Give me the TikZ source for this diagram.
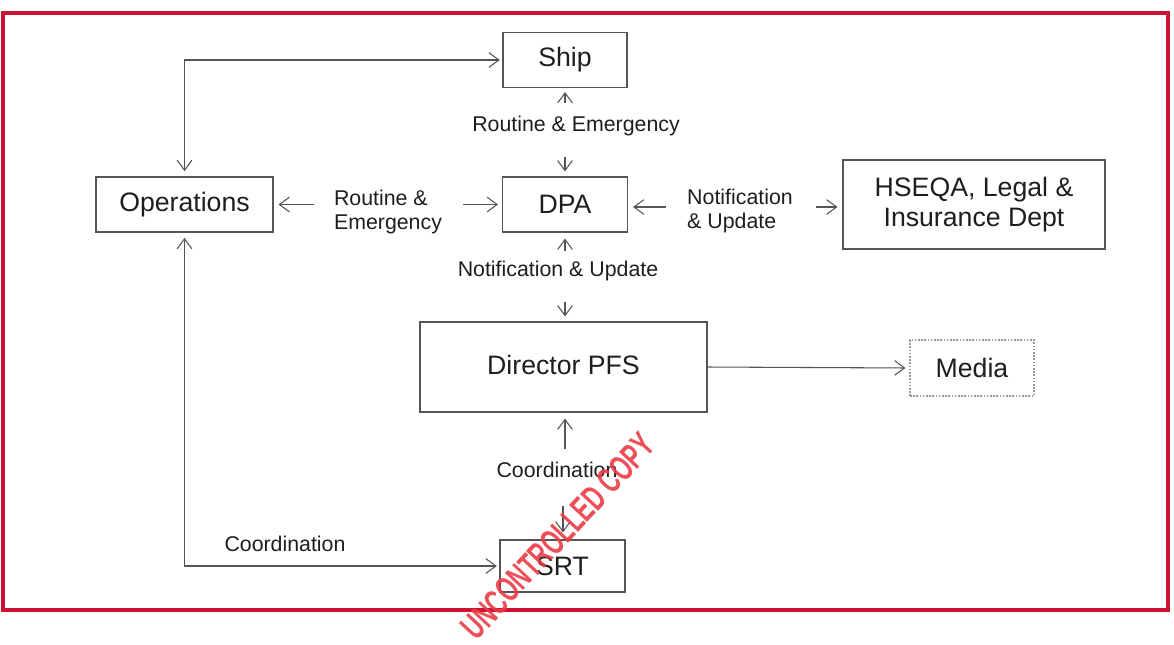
\documentclass[tikz,border=0pt]{standalone}
\usepackage{fontspec}
\setmainfont{Liberation Sans}
\usetikzlibrary{arrows.meta,calc}
\definecolor{frame}{RGB}{204,18,50}
\definecolor{ln}{RGB}{85,85,85}
\definecolor{tx}{RGB}{30,30,30}
\definecolor{wm}{RGB}{236,60,70}
\begin{document}
\begin{tikzpicture}[x=0.75pt,y=-0.75pt,
  box/.style={draw=ln,line width=0.8pt,inner sep=0pt,align=center,text=tx,
    font=\fontsize{20}{22.5}\selectfont},
  lbl/.style={inner sep=1pt,text=tx,font=\fontsize{16}{18}\selectfont},
  arr/.style={draw=ln,line width=0.8pt,-{Straight Barb[length=7.5pt,width=11pt]}},
  darr/.style={draw=ln,line width=0.8pt,{Straight Barb[length=7.5pt,width=11pt]}-{Straight Barb[length=7.5pt,width=11pt]}}
]
\useasboundingbox (0,0) rectangle (1174,644);
\fill[white] (0,0) rectangle (1174,644);
\draw[frame,line width=3pt] (3,13) rectangle (1168,610);

% boxes
\node[box,minimum width=93pt,minimum height=41.25pt] (ship) at (565,60) {Ship};
\node[box,minimum width=93.75pt,minimum height=41.25pt] (dpa) at (565,204.5) {DPA};
\node[box,minimum width=132.75pt,minimum height=41.25pt] (ops) at (184.5,204.5) {Operations};
\node[box,minimum width=196.5pt,minimum height=66.75pt] (hseqa) at (974,204.5) {HSEQA, Legal \&\\Insurance Dept};
\node[box,minimum width=215.25pt,minimum height=67.5pt] (dir) at (563.5,367) {\raisebox{4pt}{Director PFS}};
\node[box,draw=ln!60,dashed,dash pattern=on 1.2pt off 1.2pt,minimum width=93pt,minimum height=42pt] (media) at (972,368) {Media};
\node[box,minimum width=93.75pt,minimum height=39pt] (srt) at (562.5,566) {SRT};

% labels
\node[lbl] (l1) at (576,126) {Routine \& Emergency};
\node[lbl,align=left] (l2) at (388,212) {Routine \&\\Emergency};
\node[lbl,align=left] (l3) at (740,211) {Notification\\\& Update};
\node[lbl] (l4) at (558,271) {Notification \& Update};
\node[lbl] (l5) at (557,470) {Coordination};
\node[lbl] (l6) at (285,544) {Coordination};

% short arrows
\draw[arr] ($(ship.south)+(0,15)$) -- ($(ship.south)+(0,4)$);
\draw[arr] ($(dpa.north)+(0,-19)$) -- ($(dpa.north)+(0,-5)$);
\draw[arr] ($(ops.east)+(40,0)$) -- ($(ops.east)+(5,0)$);
\draw[arr] ($(dpa.west)+(-39,0)$) -- ($(dpa.west)+(-4,0)$);
\draw[arr] ($(dpa.east)+(38,2.5)$) -- ($(dpa.east)+(5,2.5)$);
\draw[arr] ($(hseqa.west)+(-26,2.5)$) -- ($(hseqa.west)+(-5,2.5)$);
\draw[arr] ($(dpa.south)+(0,18)$) -- ($(dpa.south)+(0,6)$);
\draw[arr] ($(dir.north)+(1.5,-19)$) -- ($(dir.north)+(1.5,-5)$);
\draw[arr] ($(dir.south)+(1.5,36)$) -- ($(dir.south)+(1.5,6)$);
\draw[arr] ($(srt.north)+(0.5,-33)$) -- ($(srt.north)+(0.5,-7)$);

% long connectors
\draw[arr,shorten >=3pt] (dir.east) -- (media.west);
\draw[darr,shorten <=4pt,shorten >=2pt] (ops.north) |- (ship.west);
\draw[darr,shorten <=4pt,shorten >=2pt] (ops.south) |- (srt.west);

% watermark
\node[rotate=47,text=wm,opacity=0.9,font=\bfseries\fontsize{27}{27}\selectfont,xscale=0.64] (wmk) at (558,536) {UNCONTROLLED COPY};
\end{tikzpicture}
\end{document}
